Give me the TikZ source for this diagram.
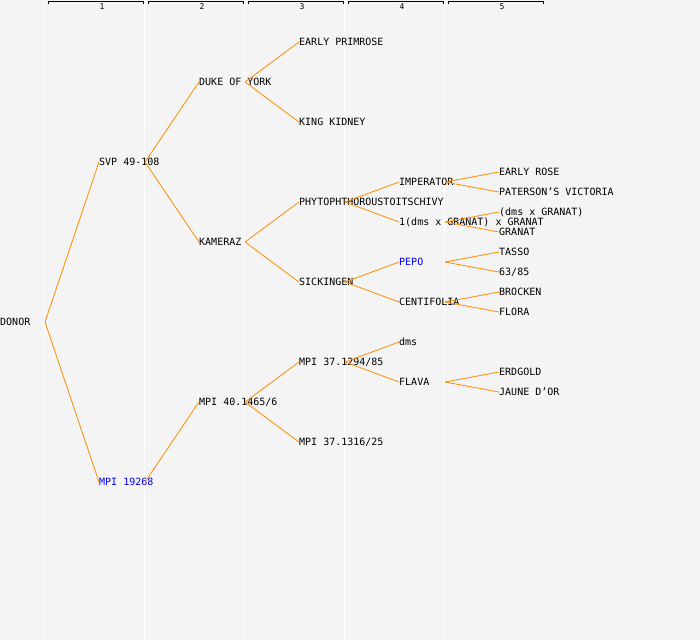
\documentclass[tikz,border=0pt]{standalone}
\usepackage{fontspec}
\setmonofont{DejaVu Sans Mono}
\usepackage{tikz}
\definecolor{PanelGray}{HTML}{F4F4F4}
\definecolor{LinkOrange}{HTML}{FF8C00}
\definecolor{MarkBlue}{HTML}{0000FF}
\tikzset{
  % Node styles
  plant/.style={anchor=west, inner sep=0pt, text height=7.3pt, text depth=0pt, font=\ttfamily\fontsize{10}{10}\selectfont},
  hilite/.style={plant, text=MarkBlue},
  colnum/.style={inner sep=0pt, font=\ttfamily\fontsize{8}{8}\selectfont},
  % Line styles
  link/.style={draw=LinkOrange, line width=0.8pt},
  divider/.style={draw=white, line width=1.2pt},
  bracket/.style={draw=black, line width=0.8pt}
}

\begin{document}
\begin{tikzpicture}[x=1pt, y=-1pt]
  % Canvas
  \useasboundingbox (0,0) rectangle (700,640);
  \fill[PanelGray] (0,0) rectangle (700,640);

  % Column dividers
  \draw[divider] (44.5,0) -- (44.5,640);
  \draw[divider] (144.5,0) -- (144.5,640);
  \draw[divider] (244.5,0) -- (244.5,640);
  \draw[divider] (344.5,0) -- (344.5,640);
  \draw[divider] (444.5,0) -- (444.5,640);

  % Column headers
  \draw[bracket] (48,4) -- (48,1.5) -- (143,1.5) -- (143,4);
  \node[colnum] (hdr1) at (102,6.5) {1};
  \draw[bracket] (148,4) -- (148,1.5) -- (243,1.5) -- (243,4);
  \node[colnum] (hdr2) at (202,6.5) {2};
  \draw[bracket] (248,4) -- (248,1.5) -- (343,1.5) -- (343,4);
  \node[colnum] (hdr3) at (302,6.5) {3};
  \draw[bracket] (348,4) -- (348,1.5) -- (443,1.5) -- (443,4);
  \node[colnum] (hdr4) at (402,6.5) {4};
  \draw[bracket] (448,4) -- (448,1.5) -- (543,1.5) -- (543,4);
  \node[colnum] (hdr5) at (502,6.5) {5};

  % Root
  \node[plant] (donor) at (0,322) {DONOR};

  % Generation 1
  \node[plant] (svp) at (99,162) {SVP 49-108};
  \node[hilite] (mpi19268) at (99,482) {MPI 19268};

  % Generation 2
  \node[plant] (duke) at (199,82) {DUKE OF YORK};
  \node[plant] (kameraz) at (199,242) {KAMERAZ};
  \node[plant] (mpi40) at (199,402) {MPI 40.1465/6};

  % Generation 3
  \node[plant] (primrose) at (299,42) {EARLY PRIMROSE};
  \node[plant] (kidney) at (299,122) {KING KIDNEY};
  \node[plant] (phyto) at (299,202) {PHYTOPHTHOROUSTOITSCHIVY};
  \node[plant] (sickingen) at (299,282) {SICKINGEN};
  \node[plant] (mpi37a) at (299,362) {MPI 37.1294/85};
  \node[plant] (mpi37b) at (299,442) {MPI 37.1316/25};

  % Generation 4
  \node[plant] (imperator) at (399,182) {IMPERATOR};
  \node[plant] (dmsgranat) at (399,222) {1(dms x GRANAT) x GRANAT};
  \node[hilite] (pepo) at (399,262) {PEPO};
  \node[plant] (centifolia) at (399,302) {CENTIFOLIA};
  \node[plant] (dms) at (399,342) {dms};
  \node[plant] (flava) at (399,382) {FLAVA};

  % Generation 5
  \node[plant] (earlyrose) at (499,172) {EARLY ROSE};
  \node[plant] (paterson) at (499,192) {PATERSON’S VICTORIA};
  \node[plant] (dmsxg) at (499,212) {(dms x GRANAT)};
  \node[plant] (granat) at (499,232) {GRANAT};
  \node[plant] (tasso) at (499,252) {TASSO};
  \node[plant] (n6385) at (499,272) {63/85};
  \node[plant] (brocken) at (499,292) {BROCKEN};
  \node[plant] (flora) at (499,312) {FLORA};
  \node[plant] (erdgold) at (499,372) {ERDGOLD};
  \node[plant] (jaune) at (499,392) {JAUNE D’OR};

  % Fork points
  \coordinate (donor-f) at (45,322);
  \coordinate (svp-f) at (145,162);
  \coordinate (mpi19268-f) at (145,482);
  \coordinate (duke-f) at (245,82);
  \coordinate (kameraz-f) at (245,242);
  \coordinate (mpi40-f) at (245,402);
  \coordinate (phyto-f) at (345,202);
  \coordinate (sickingen-f) at (345,282);
  \coordinate (mpi37a-f) at (345,362);
  \coordinate (imperator-f) at (445,182);
  \coordinate (dmsgranat-f) at (445,222);
  \coordinate (pepo-f) at (445,262);
  \coordinate (centifolia-f) at (445,302);
  \coordinate (flava-f) at (445,382);

  % Links
  \draw[link] (donor-f) -- (svp.west);
  \draw[link] (donor-f) -- (mpi19268.west);
  \draw[link] (svp-f) -- (duke.west);
  \draw[link] (svp-f) -- (kameraz.west);
  \draw[link] (mpi19268-f) -- (mpi40.west);
  \draw[link] (duke-f) -- (primrose.west);
  \draw[link] (duke-f) -- (kidney.west);
  \draw[link] (kameraz-f) -- (phyto.west);
  \draw[link] (kameraz-f) -- (sickingen.west);
  \draw[link] (mpi40-f) -- (mpi37a.west);
  \draw[link] (mpi40-f) -- (mpi37b.west);
  \draw[link] (phyto-f) -- (imperator.west);
  \draw[link] (phyto-f) -- (dmsgranat.west);
  \draw[link] (sickingen-f) -- (pepo.west);
  \draw[link] (sickingen-f) -- (centifolia.west);
  \draw[link] (mpi37a-f) -- (dms.west);
  \draw[link] (mpi37a-f) -- (flava.west);
  \draw[link] (imperator-f) -- (earlyrose.west);
  \draw[link] (imperator-f) -- (paterson.west);
  \draw[link] (dmsgranat-f) -- (dmsxg.west);
  \draw[link] (dmsgranat-f) -- (granat.west);
  \draw[link] (pepo-f) -- (tasso.west);
  \draw[link] (pepo-f) -- (n6385.west);
  \draw[link] (centifolia-f) -- (brocken.west);
  \draw[link] (centifolia-f) -- (flora.west);
  \draw[link] (flava-f) -- (erdgold.west);
  \draw[link] (flava-f) -- (jaune.west);
\end{tikzpicture}
\end{document}
